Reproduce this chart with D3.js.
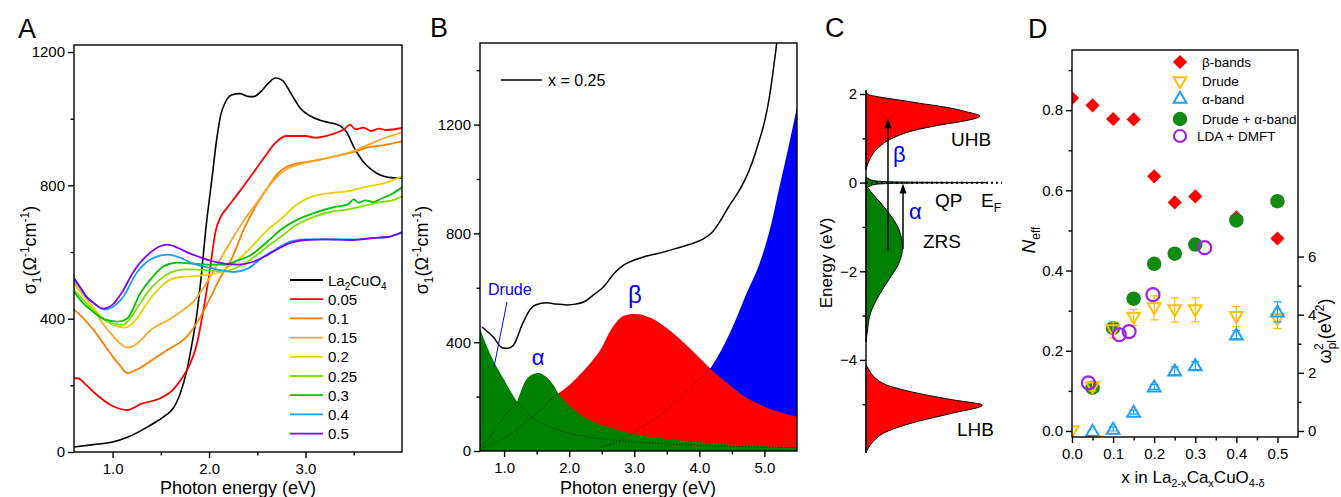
<!DOCTYPE html>
<html>
<head>
<meta charset="utf-8">
<script src="https://cdn.jsdelivr.net/npm/d3@7"></script>
<style>
  body { margin: 0; background: #fff; }
  svg { font-family: "Liberation Sans", Arial, sans-serif; }
  .tick text { font-size: 15px; fill: #000; }
</style>
</head>
<body>
<svg id="fig" width="1341" height="497"></svg>
<script>
// ---------- panel A: sigma1 spectra, La2-xCaxCuO4 ----------
const seriesA = ['La2CuO4', '0.05', '0.1', '0.15', '0.2', '0.25', '0.3', '0.4', '0.5'];
const colorsA = ['#000000', '#ff0000', '#ff7f00', '#ffa726', '#e8d200', '#80e000', '#00c400', '#1aa0ff', '#8000ff'];
const sigmaA = [
  [[0.6,15],[0.8,22],[1.0,30],[1.16,45],[1.3,65],[1.48,96],[1.56,112],[1.62,128],[1.7,175],[1.77,245],[1.82,320],[1.87,406],[1.92,530],[1.965,665],[2.03,820],[2.08,940],[2.12,1010],[2.17,1050],[2.24,1072],[2.32,1075],[2.4,1067],[2.46,1066],[2.55,1085],[2.62,1108],[2.69,1122],[2.76,1115],[2.85,1075],[2.95,1030],[3.05,1008],[3.15,995],[3.25,988],[3.35,980],[3.42,962],[3.51,910],[3.6,870],[3.68,848],[3.78,830],[3.86,824],[4.0,822]],
  [[0.6,222],[0.65,220],[0.73,200],[0.85,168],[1.0,138],[1.15,126],[1.3,145],[1.5,162],[1.62,185],[1.72,222],[1.8,262],[1.87,320],[1.93,406],[2.0,530],[2.07,665],[2.12,705],[2.18,730],[2.3,775],[2.47,842],[2.6,895],[2.68,925],[2.8,948],[3.0,948],[3.1,943],[3.27,953],[3.4,968],[3.46,982],[3.52,968],[3.6,973],[3.68,963],[3.76,970],[3.84,966],[4.0,972]],
  [[0.6,427],[0.7,400],[0.8,367],[0.9,327],[1.0,287],[1.08,258],[1.15,237],[1.25,247],[1.43,280],[1.6,312],[1.77,346],[1.9,400],[2.02,467],[2.12,525],[2.23,577],[2.36,668],[2.5,745],[2.6,790],[2.71,835],[2.8,855],[2.9,865],[3.06,872],[3.3,887],[3.5,900],[3.65,914],[3.8,920],[4.0,932]],
  [[0.6,508],[0.7,470],[0.8,430],[0.9,385],[1.0,350],[1.08,325],[1.16,313],[1.25,325],[1.4,367],[1.6,400],[1.75,430],[1.85,455],[1.95,496],[2.07,555],[2.19,615],[2.35,690],[2.5,750],[2.6,790],[2.7,825],[2.8,848],[2.9,860],[3.06,872],[3.3,887],[3.5,903],[3.7,928],[3.85,945],[4.0,959]],
  [[0.6,502],[0.7,470],[0.8,433],[0.9,400],[1.0,382],[1.13,373],[1.25,400],[1.36,448],[1.48,490],[1.6,517],[1.7,525],[1.81,527],[2.0,532],[2.12,540],[2.25,565],[2.43,612],[2.6,665],[2.75,700],[2.9,740],[3.0,758],[3.16,773],[3.3,778],[3.43,782],[3.55,790],[3.65,797],[3.8,805],[3.9,815],[4.0,827]],
  [[0.6,487],[0.7,455],[0.8,425],[0.9,400],[1.0,385],[1.11,382],[1.25,430],[1.36,478],[1.48,515],[1.6,538],[1.75,548],[1.88,547],[2.0,545],[2.15,541],[2.3,555],[2.43,577],[2.6,615],[2.75,647],[2.9,680],[3.1,707],[3.25,720],[3.44,728],[3.6,738],[3.75,748],[3.93,758],[4.0,767]],
  [[0.6,481],[0.7,445],[0.8,420],[0.9,400],[1.05,391],[1.15,400],[1.29,478],[1.4,520],[1.53,557],[1.67,568],[1.85,565],[2.02,562],[2.15,562],[2.3,575],[2.43,590],[2.6,630],[2.75,668],[2.9,695],[3.1,718],[3.3,735],[3.44,743],[3.5,758],[3.55,748],[3.62,755],[3.7,750],[3.8,762],[3.9,775],[4.0,794]],
  [[0.6,517],[0.67,490],[0.73,463],[0.8,448],[0.92,427],[1.0,435],[1.11,466],[1.25,538],[1.43,583],[1.57,592],[1.7,583],[1.81,568],[2.05,550],[2.26,540],[2.4,550],[2.57,587],[2.7,610],[2.85,632],[3.0,638],[3.2,638],[3.5,638],[3.7,642],[3.85,645],[4.0,658]],
  [[0.6,522],[0.67,492],[0.73,466],[0.8,448],[0.9,430],[1.0,442],[1.1,480],[1.21,538],[1.39,598],[1.5,618],[1.57,622],[1.68,612],[1.78,598],[1.9,585],[2.05,571],[2.3,562],[2.45,570],[2.6,590],[2.75,615],[2.85,628],[3.0,636],[3.2,638],[3.5,636],[3.7,642],[3.85,645],[4.0,660]]
];

// ---------- panel B: x = 0.25 decomposition ----------
const totalB = [[0.66,456],[0.83,420],[0.98,379],[1.06,378],[1.14,388],[1.29,471],[1.4,520],[1.48,537],[1.66,545],[1.8,540],[1.97,537],[2.1,540],[2.22,548],[2.38,575],[2.53,604],[2.7,655],[2.84,684],[3.0,702],[3.15,714],[3.46,732],[3.65,745],[3.83,758],[4.03,776],[4.19,802],[4.32,845],[4.45,898],[4.58,945],[4.7,997],[4.81,1060],[4.91,1133],[5.0,1210],[5.07,1292],[5.13,1390],[5.19,1502],[5.25,1620]];
const drudeB = [[0.63,450],[0.7,405],[0.8,350],[0.9,303],[1.0,262],[1.1,220],[1.2,182],[1.3,155],[1.4,130],[1.6,100],[1.8,80],[2.0,66],[2.4,48],[3.0,33],[3.5,26],[4.0,21],[4.5,17],[5.0,14],[5.5,12]];
const alphaB = [[0.63,18],[0.7,29],[0.91,96],[1.05,140],[1.2,182],[1.25,215],[1.32,255],[1.4,277],[1.53,287],[1.65,272],[1.75,245],[1.83,213],[1.93,185],[2.14,140],[2.4,105],[2.64,85],[3.0,62],[3.67,40],[4.5,23],[5.2,16],[5.5,14]];
const betaB = [[0.63,10],[0.8,25],[1.0,48],[1.2,80],[1.4,118],[1.6,160],[1.84,213],[1.92,226],[2.13,272],[2.33,324],[2.48,372],[2.64,445],[2.84,497],[3.0,504],[3.26,489],[3.57,438],[3.88,371],[4.19,298],[4.45,245],[4.7,199],[4.95,168],[5.22,144],[5.5,126]];
const highB = [[2.5,15],[2.8,40],[3.0,70],[3.3,115],[3.6,170],[3.9,240],[4.19,312],[4.5,450],[4.7,565],[4.96,714],[5.1,830],[5.22,960],[5.37,1119],[5.5,1265]];

// ---------- panel C: density of states sketch ----------
const uhbC = [[2.06,0],[1.99,0.02],[1.93,0.12],[1.86,0.3],[1.79,0.47],[1.71,0.68],[1.6,0.88],[1.5,1.0],[1.4,0.88],[1.3,0.65],[1.17,0.41],[1.0,0.23],[0.77,0.1],[0.51,0.03],[0.29,0]];
const qpC = [[0.13,0],[0.08,0.03],[0.04,0.08],[0.02,0.2],[0.008,0.5],[0,1.06],[-0.008,0.5],[-0.02,0.2],[-0.04,0.08],[-0.08,0.03],[-0.13,0]];
const zrsC = [[-0.05,0],[-0.2,0.04],[-0.46,0.13],[-0.72,0.21],[-1.06,0.29],[-1.47,0.32],[-1.81,0.29],[-2.19,0.2],[-2.56,0.11],[-2.94,0.04],[-3.39,0.01],[-3.6,0]];
const lhbC = [[-4.1,0],[-4.15,0.01],[-4.53,0.15],[-4.75,0.45],[-4.9,0.76],[-5.02,1.02],[-5.2,0.76],[-5.39,0.45],[-5.62,0.18],[-5.88,0.05],[-6.1,0]];

// ---------- panel D: effective electron numbers ----------
const dopingD = [0, 0.05, 0.1, 0.15, 0.2, 0.25, 0.3, 0.4, 0.5];
const betaN = [0.83, 0.812, 0.778, 0.777, 0.635, 0.57, 0.585, 0.533, 0.48];
const drudeN = [0.0, 0.11, 0.252, 0.283, 0.307, 0.302, 0.302, 0.285, 0.28];
const drudeErr = [0, 0.01, 0.02, 0.02, 0.03, 0.03, 0.03, 0.025, 0.025];
const dopingAlpha = [0.05, 0.1, 0.15, 0.2, 0.25, 0.3, 0.4, 0.5];
const alphaN = [0.0, 0.005, 0.047, 0.11, 0.15, 0.163, 0.24, 0.297];
const alphaErr = [0, 0.005, 0.005, 0.006, 0.01, 0.01, 0.01, 0.025];
const sumN = [0.108, 0.257, 0.33, 0.417, 0.442, 0.465, 0.525, 0.573];
const dopingDmft = [0.04, 0.115, 0.139, 0.197, 0.323];
const dmftN = [0.12, 0.24, 0.248, 0.34, 0.457];
const legendD = ['β-bands', 'Drude', 'α-band', 'Drude + α-band', 'LDA + DMFT'];

const svg = d3.select('#fig');
const defs = svg.append('defs');

function frame(g, x, y) {
    g.append('rect')
        .attr('x', x.range()[0]).attr('y', y.range()[1])
        .attr('width', x.range()[1] - x.range()[0])
        .attr('height', y.range()[0] - y.range()[1])
        .attr('fill', 'none').attr('stroke', '#000').attr('stroke-width', 1.4);
}

function axes(g, x, y, xMajor, xMinor, yMajor, yMinor, xFmt, yFmt) {
    const bottom = y.range()[0];
    const left = x.range()[0];
    g.append('g').attr('transform', `translate(0,${bottom})`)
        .call(d3.axisBottom(x).tickValues(xMinor).tickSize(3.5).tickFormat(''));
    g.append('g').attr('transform', `translate(0,${bottom})`)
        .call(d3.axisBottom(x).tickValues(xMajor).tickSize(6).tickPadding(5).tickFormat(xFmt));
    g.append('g').attr('transform', `translate(${left},0)`)
        .call(d3.axisLeft(y).tickValues(yMinor).tickSize(3.5).tickFormat(''));
    g.append('g').attr('transform', `translate(${left},0)`)
        .call(d3.axisLeft(y).tickValues(yMajor).tickSize(6).tickPadding(3).tickFormat(yFmt));
    g.selectAll('.domain').remove();
    g.selectAll('.tick line').attr('stroke-width', 1.4);
}

function letter(txt, x, y) {
    svg.append('text').attr('x', x).attr('y', y).attr('font-size', 27).text(txt);
}

function sigmaLabel(x, y) {
    const t = svg.append('text').attr('transform', `translate(${x},${y}) rotate(-90)`)
        .attr('text-anchor', 'middle').attr('font-size', 18);
    t.append('tspan').text('σ');
    t.append('tspan').attr('font-size', 12).attr('dy', 5).text('1');
    t.append('tspan').attr('dy', -5).text('(Ω');
    t.append('tspan').attr('font-size', 12).attr('dy', -7).text('-1');
    t.append('tspan').attr('dy', 7).text('cm');
    t.append('tspan').attr('font-size', 12).attr('dy', -7).text('-1');
    t.append('tspan').attr('dy', 7).text(')');
}

// ================= A =================
{
    const g = svg.append('g');
    const x = d3.scaleLinear().domain([0.6, 4.0]).range([74, 402]);
    const y = d3.scaleLinear().domain([0, 1221]).range([452, 45]);
    defs.append('clipPath').attr('id', 'clipA').append('rect')
        .attr('x', 74).attr('y', 45).attr('width', 328).attr('height', 407);
    const line = d3.line().x(d => x(d[0])).y(d => y(d[1])).curve(d3.curveMonotoneX);
    const curves = g.append('g').attr('clip-path', 'url(#clipA)');
    sigmaA.forEach((s, i) => {
        curves.append('path').datum(s).attr('d', line).attr('fill', 'none')
            .attr('stroke', colorsA[i]).attr('stroke-width', i === 0 ? 1.6 : 1.8);
    });
    frame(g, x, y);
    axes(g, x, y, [1, 2, 3], [1.5, 2.5, 3.5], [0, 400, 800, 1200], [200, 600, 1000],
        d3.format('.1f'), d3.format('d'));

    const leg = g.append('g');
    seriesA.forEach((name, i) => {
        const ly = 280 + i * 19.2;
        leg.append('line').attr('x1', 290).attr('x2', 323).attr('y1', ly).attr('y2', ly)
            .attr('stroke', colorsA[i]).attr('stroke-width', 1.8);
        const t = leg.append('text').attr('x', 328).attr('y', ly + 5.5).attr('font-size', 15);
        if (i === 0) {
            t.append('tspan').text('La');
            t.append('tspan').attr('font-size', 10).attr('dy', 4).text('2');
            t.append('tspan').attr('dy', -4).text('CuO');
            t.append('tspan').attr('font-size', 10).attr('dy', 4).text('4');
        } else {
            t.text(name);
        }
    });
    g.append('text').attr('x', 238).attr('y', 494).attr('text-anchor', 'middle')
        .attr('font-size', 18).text('Photon energy (eV)');
    sigmaLabel(36, 250);
    letter('A', 18, 38);
}

// ================= B =================
{
    const g = svg.append('g');
    const x = d3.scaleLinear().domain([0.63, 5.5]).range([480, 797]);
    const y = d3.scaleLinear().domain([0, 1500]).range([451, 43]);
    defs.append('clipPath').attr('id', 'clipB').append('rect')
        .attr('x', 480).attr('y', 43).attr('width', 317).attr('height', 408);
    const area = d3.area().x(d => x(d[0])).y0(y(0)).y1(d => y(d[1])).curve(d3.curveMonotoneX);
    const line = d3.line().x(d => x(d[0])).y(d => y(d[1])).curve(d3.curveMonotoneX);

    // dotted continuation of each component only where a later fill hides it
    function mask(id, parts) {
        const m = defs.append('mask').attr('id', id);
        m.append('rect').attr('x', 0).attr('y', 0).attr('width', 1341).attr('height', 497).attr('fill', '#000');
        parts.forEach(s => m.append('path').datum(s).attr('d', area).attr('fill', '#fff'));
    }
    mask('mHigh', [betaB, drudeB, alphaB]);
    mask('mBeta', [drudeB, alphaB]);
    mask('mDrude', [alphaB]);
    mask('mAlpha', [drudeB]);

    const p = g.append('g').attr('clip-path', 'url(#clipB)');
    p.append('path').datum(highB).attr('d', area).attr('fill', '#0000ff');
    p.append('path').datum(betaB).attr('d', area).attr('fill', '#ff0000');
    p.append('path').datum(drudeB).attr('d', area).attr('fill', '#008000');
    p.append('path').datum(alphaB).attr('d', area).attr('fill', '#008000');
    [[highB, 'mHigh'], [betaB, 'mBeta'], [drudeB, 'mDrude'], [alphaB, 'mAlpha']].forEach(([s, m]) => {
        p.append('path').datum(s).attr('d', line).attr('fill', 'none').attr('mask', `url(#${m})`)
            .attr('stroke', '#1a1a1a').attr('stroke-width', 0.9).attr('stroke-dasharray', '1,2');
    });
    p.append('path').datum(totalB).attr('d', line).attr('fill', 'none')
        .attr('stroke', '#000').attr('stroke-width', 1.5);
    frame(g, x, y);
    axes(g, x, y, [1, 2, 3, 4, 5], [1.5, 2.5, 3.5, 4.5], [0, 400, 800, 1200], [200, 600, 1000, 1400],
        d3.format('.1f'), d3.format('d'));

    g.append('line').attr('x1', 501).attr('x2', 542).attr('y1', 80).attr('y2', 80)
        .attr('stroke', '#000').attr('stroke-width', 1.5);
    g.append('text').attr('x', 548).attr('y', 86).attr('font-size', 16).text('x = 0.25');
    g.append('text').attr('x', 488).attr('y', 295).attr('font-size', 16).attr('fill', '#0000ff').text('Drude');
    g.append('line').attr('x1', 507).attr('y1', 302).attr('x2', 494).attr('y2', 367)
        .attr('stroke', '#0000ff').attr('stroke-width', 1);
    g.append('text').attr('x', 538).attr('y', 365).attr('text-anchor', 'middle')
        .attr('font-size', 22).attr('fill', '#0000ff').text('α');
    g.append('text').attr('x', 635).attr('y', 303).attr('text-anchor', 'middle')
        .attr('font-size', 24).attr('fill', '#0000ff').text('β');
    g.append('text').attr('x', 638).attr('y', 494).attr('text-anchor', 'middle')
        .attr('font-size', 18).text('Photon energy (eV)');
    sigmaLabel(428, 250);
    letter('B', 430, 37);
}

// ================= C =================
{
    const g = svg.append('g');
    const y = d3.scaleLinear().domain([2.09, -6.1]).range([90, 453]);
    const x = d3.scaleLinear().domain([0, 1]).range([866, 980]);
    const area = d3.area().y(d => y(d[0])).x0(x(0)).x1(d => x(d[1])).curve(d3.curveMonotoneY);
    [[uhbC, '#ff0000'], [lhbC, '#ff0000'], [zrsC, '#008000'], [qpC, '#008000']].forEach(([s, c]) => {
        g.append('path').datum(s).attr('d', area).attr('fill', c)
            .attr('stroke', '#000').attr('stroke-width', 1);
    });
    g.append('line').attr('x1', x(0)).attr('x2', 1002).attr('y1', y(0)).attr('y2', y(0))
        .attr('stroke', '#000').attr('stroke-width', 2).attr('stroke-dasharray', '2,3');

    const ax = g.append('g').attr('transform', `translate(${x(0)},0)`);
    ax.call(d3.axisLeft(y).tickValues([1, -1, -3, -5]).tickSize(3.5).tickFormat(''));
    ax.append('g').call(d3.axisLeft(y).tickValues([2, 0, -2, -4]).tickSize(6).tickPadding(3)
        .tickFormat(d3.format('d'))).select('.domain').remove();
    ax.select('.domain').attr('d', `M0,${y.range()[0]}V${y.range()[1]}`).attr('stroke-width', 1.4);
    ax.selectAll('.tick line').attr('stroke-width', 1.4);
    ax.selectAll('.tick text').attr('font-size', 15);

    function arrow(xp, e0, e1) {
        g.append('line').attr('x1', xp).attr('x2', xp).attr('y1', y(e0)).attr('y2', y(e1) + 6)
            .attr('stroke', '#000').attr('stroke-width', 1.5);
        g.append('path').attr('d', `M${xp},${y(e1)}l-3.5,10h7z`).attr('fill', '#000');
    }
    arrow(888, -1.55, 1.45);
    arrow(903, -1.5, -0.02);

    const lab = (t, xx, yy, col, fs) => g.append('text').attr('x', xx).attr('y', yy)
        .attr('font-size', fs || 19).attr('fill', col || '#000').text(t);
    lab('UHB', 951, 146);
    lab('β', 893, 162, '#0000ff', 22);
    lab('QP', 935, 207);
    const ef = g.append('text').attr('x', 981).attr('y', 207).attr('font-size', 19);
    ef.append('tspan').text('E');
    ef.append('tspan').attr('font-size', 12).attr('dy', 5).text('F');
    lab('α', 909, 219, '#0000ff', 22);
    lab('ZRS', 923, 248);
    lab('LHB', 957, 436);
    g.append('text').attr('transform', `translate(832,263) rotate(-90)`).attr('text-anchor', 'middle')
        .attr('font-size', 17).text('Energy (eV)');
    letter('C', 825, 37);
}

// ================= D =================
{
    const g = svg.append('g');
    const x = d3.scaleLinear().domain([0, 0.55]).range([1072, 1298]);
    const y = d3.scaleLinear().domain([-0.015, 0.95]).range([437, 50]);
    const y2 = d3.scaleLinear().domain([-0.015 / 0.0725, 0.95 / 0.0725]).range([437, 50]);
    defs.append('clipPath').attr('id', 'clipD').append('rect')
        .attr('x', 1072).attr('y', 50).attr('width', 226).attr('height', 387);
    const p = g.append('g').attr('clip-path', 'url(#clipD)');

    const diamond = d3.symbol().type(d3.symbolSquare).size(100)();
    const tri = d3.symbol().type(d3.symbolTriangle).size(70)();
    const circ = d3.symbol().type(d3.symbolCircle).size(165)();

    dopingD.forEach((d, i) => {
        p.append('path').attr('d', diamond)
            .attr('transform', `translate(${x(d)},${y(betaN[i])}) rotate(45)`).attr('fill', '#ff0000');
    });
    dopingAlpha.forEach((d, i) => {
        p.append('path').attr('d', circ).attr('transform', `translate(${x(d)},${y(sumN[i])})`)
            .attr('fill', '#138a13');
    });
    function errBars(xs, vs, es, col) {
        xs.forEach((d, i) => {
            if (!es[i]) return;
            const xx = x(d);
            p.append('path').attr('d', `M${xx},${y(vs[i] - es[i])}V${y(vs[i] + es[i])}` +
                `M${xx - 4},${y(vs[i] - es[i])}h8M${xx - 4},${y(vs[i] + es[i])}h8`)
                .attr('stroke', col).attr('stroke-width', 1.2).attr('fill', 'none');
        });
    }
    errBars(dopingD, drudeN, drudeErr, '#ffc000');
    dopingD.forEach((d, i) => {
        p.append('path').attr('d', tri).attr('transform', `translate(${x(d)},${y(drudeN[i]) - 1}) rotate(180)`)
            .attr('fill', 'none').attr('stroke', '#ffc000').attr('stroke-width', 2);
    });
    errBars(dopingAlpha, alphaN, alphaErr, '#1ea0ff');
    dopingAlpha.forEach((d, i) => {
        p.append('path').attr('d', tri).attr('transform', `translate(${x(d)},${y(alphaN[i]) + 1})`)
            .attr('fill', 'none').attr('stroke', '#1ea0ff').attr('stroke-width', 2);
    });
    dopingDmft.forEach((d, i) => {
        p.append('circle').attr('cx', x(d)).attr('cy', y(dmftN[i])).attr('r', 6.5)
            .attr('fill', 'none').attr('stroke', '#a020f0').attr('stroke-width', 2.2);
    });

    frame(g, x, y);
    axes(g, x, y, [0, 0.1, 0.2, 0.3, 0.4, 0.5], [0.05, 0.15, 0.25, 0.35, 0.45],
        [0, 0.2, 0.4, 0.6, 0.8], [0.1, 0.3, 0.5, 0.7, 0.9], d3.format('.1f'), d3.format('.1f'));
    const r = g.append('g').attr('transform', 'translate(1298,0)');
    r.call(d3.axisRight(y2).tickValues([1, 3, 5]).tickSize(3.5).tickFormat(''));
    r.append('g').call(d3.axisRight(y2).tickValues([0, 2, 4, 6]).tickSize(6).tickPadding(4)
        .tickFormat(d3.format('d')));
    r.selectAll('.domain').remove();
    r.selectAll('.tick line').attr('stroke-width', 1.4);

    // legend
    const lx = 1180;
    const ly = [62, 81, 99, 119, 136];
    g.append('path').attr('d', diamond).attr('transform', `translate(${lx},${ly[0]}) rotate(45)`).attr('fill', '#ff0000');
    g.append('path').attr('d', tri).attr('transform', `translate(${lx},${ly[1]}) rotate(180)`)
        .attr('fill', 'none').attr('stroke', '#ffc000').attr('stroke-width', 2);
    g.append('path').attr('d', tri).attr('transform', `translate(${lx},${ly[2]})`)
        .attr('fill', 'none').attr('stroke', '#1ea0ff').attr('stroke-width', 2);
    g.append('path').attr('d', circ).attr('transform', `translate(${lx},${ly[3]})`).attr('fill', '#138a13');
    g.append('circle').attr('cx', lx).attr('cy', ly[4]).attr('r', 6)
        .attr('fill', 'none').attr('stroke', '#a020f0').attr('stroke-width', 2.2);
    legendD.forEach((t, i) => {
        g.append('text').attr('x', i === 4 ? 1197 : 1202).attr('y', ly[i] + 5)
            .attr('font-size', 13.5).text(t);
    });

    const xl = g.append('text').attr('x', 1193).attr('y', 483).attr('text-anchor', 'middle').attr('font-size', 17);
    xl.append('tspan').text('x in La');
    xl.append('tspan').attr('font-size', 11).attr('dy', 4).text('2-x');
    xl.append('tspan').attr('dy', -4).text('Ca');
    xl.append('tspan').attr('font-size', 11).attr('dy', 4).text('x');
    xl.append('tspan').attr('dy', -4).text('CuO');
    xl.append('tspan').attr('font-size', 11).attr('dy', 4).text('4-δ');

    const nl = g.append('text').attr('transform', 'translate(1035,240) rotate(-90)')
        .attr('text-anchor', 'middle').attr('font-size', 19);
    nl.append('tspan').attr('font-style', 'italic').text('N');
    nl.append('tspan').attr('font-size', 12).attr('dy', 5).text('eff');

    const wl = g.append('text').attr('transform', 'translate(1331,331) rotate(-90)')
        .attr('text-anchor', 'middle').attr('font-size', 18);
    wl.append('tspan').text('ω');
    wl.append('tspan').attr('font-size', 12).attr('dy', 5).text('pl');
    wl.append('tspan').attr('font-size', 12).attr('dy', -13).attr('dx', -10).text('2');
    wl.append('tspan').attr('dy', 8).attr('dx', 4).text('(eV');
    wl.append('tspan').attr('font-size', 12).attr('dy', -7).text('2');
    wl.append('tspan').attr('dy', 7).text(')');
    letter('D', 1028, 38);
}
</script>
</body>
</html>
